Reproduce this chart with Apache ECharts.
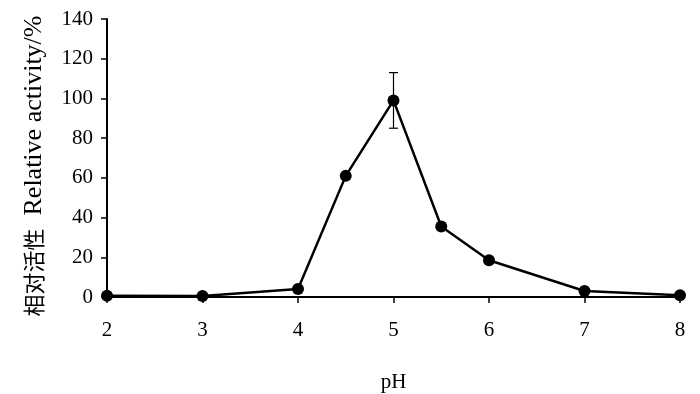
<!DOCTYPE html>
<html><head><meta charset="utf-8">
<script src="https://cdn.jsdelivr.net/npm/echarts@6/dist/echarts.min.js"></script>
<style>html,body{margin:0;padding:0;background:#fff}#c{width:700px;height:394px}</style>
</head><body><div id="c"></div>
<script>
const pH = [2, 3, 4, 4.5, 5, 5.5, 6, 7, 8];
const activity = [0.6, 0.5, 4, 61, 99, 35.5, 18.5, 3, 0.9];
const errors = [0, 0, 0, 1.5, 14, 1, 0.5, 0, 0];
const xTicks = [2, 3, 4, 5, 6, 7, 8];
const yTicks = [0, 20, 40, 60, 80, 100, 120, 140];

const lineData = pH.map((x, i) => [x, activity[i]]);
const errData = pH.map((x, i) => [x, activity[i] - errors[i], activity[i] + errors[i]]).filter((d, i) => errors[i] > 0);
const serif = 'Liberation Serif, DejaVu Serif, serif';
const chart = echarts.init(document.getElementById('c'));
chart.setOption({
  animation: false,
  grid: {left: 107, right: 20, top: 19, bottom: 97, outerBoundsMode: 'none', containLabel: false},
  xAxis: {
    type: 'value', min: xTicks[0], max: xTicks[xTicks.length-1], interval: 1,
    name: 'pH', nameLocation: 'middle', nameGap: 75,
    nameTextStyle: {fontFamily: serif, fontSize: 21, color: '#000'},
    axisLine: {lineStyle: {color: '#000', width: 2}},
    axisTick: {show: true, length: 6, lineStyle: {color: '#000', width: 1.5}},
    axisLabel: {fontFamily: serif, fontSize: 21, color: '#000', margin: 23},
    splitLine: {show: false}
  },
  yAxis: {
    type: 'value', min: yTicks[0], max: yTicks[yTicks.length-1], interval: 20,
    name: '{c|相对活性}{l|  Relative activity/%}', nameLocation: 'middle', nameGap: 60,
    nameTextStyle: {
      color: '#000', padding: [0, 16, 0, 0],
      rich: {
        c: {fontFamily: 'Noto Sans CJK SC', fontSize: 22, color: '#000'},
        l: {fontFamily: serif, fontSize: 26, color: '#000'}
      }
    },
    axisLine: {show: true, lineStyle: {color: '#000', width: 2}},
    axisTick: {show: true, length: 6, lineStyle: {color: '#000', width: 1.5}},
    axisLabel: {fontFamily: serif, fontSize: 21, color: '#000', margin: 14},
    splitLine: {show: false}
  },
  series: [
    {
      type: 'custom',
      renderItem: function (params, api) {
        const x = api.value(0);
        const lo = api.coord([x, api.value(1)]);
        const hi = api.coord([x, api.value(2)]);
        const w = 4.5;
        const st = {stroke: '#000', lineWidth: 1.2};
        return {type: 'group', children: [
          {type: 'line', shape: {x1: lo[0], y1: lo[1], x2: hi[0], y2: hi[1]}, style: st},
          {type: 'line', shape: {x1: lo[0]-w, y1: lo[1], x2: lo[0]+w, y2: lo[1]}, style: st},
          {type: 'line', shape: {x1: hi[0]-w, y1: hi[1], x2: hi[0]+w, y2: hi[1]}, style: st}
        ]};
      },
      data: errData, z: 1
    },
    {
      type: 'line', data: lineData, symbol: 'circle', symbolSize: 12,
      lineStyle: {color: '#000', width: 2.5}, itemStyle: {color: '#000'}, z: 3
    }
  ]
});
</script></body></html>
